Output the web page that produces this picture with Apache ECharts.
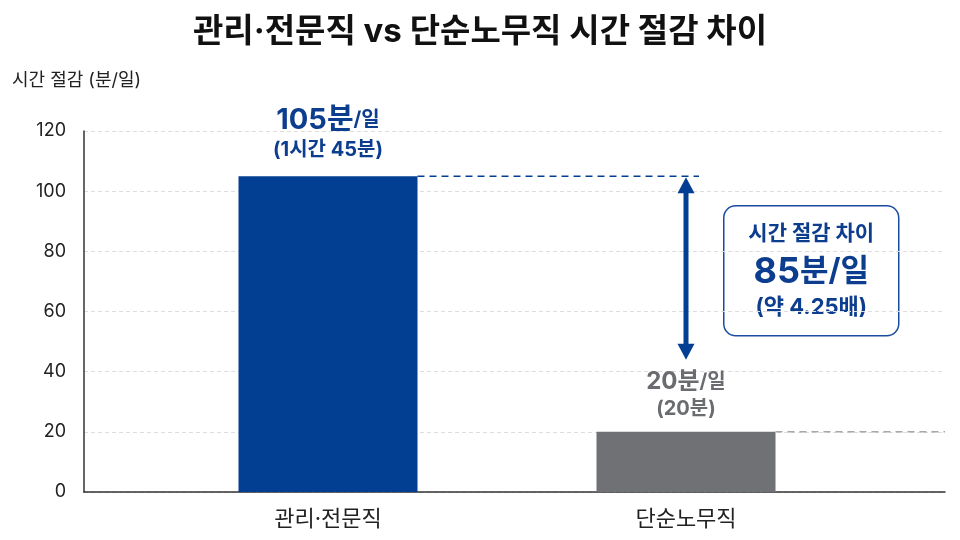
<!DOCTYPE html>
<html><head><meta charset="utf-8">
<script src="https://cdn.jsdelivr.net/npm/echarts@6/dist/echarts.min.js"></script>
<style>html,body{margin:0;padding:0;background:#fff}#c{width:960px;height:540px}</style>
</head><body><div id="c"></div>
<script>
const categories = ['관리·전문직', '단순노무직'];
const minutesPerDay = [105, 20];
const durationText = ['1시간 45분', '20분'];
const yTicks = [0, 20, 40, 60, 80, 100, 120];
const diffLines = ['시간 절감 차이', '85', '분/일', '(약 4.25배)'];
const arrowBottomValue = 44;

const FONT = 'Inter, "Noto Sans CJK KR", "Noto Sans", sans-serif';
const BLUE = '#023f92';
const BLUE_T = '#0c3d8f';
const GRAY = '#6f7175';
const GRAY_T = '#6a6c70';
const barWidth = 179;

const chart = echarts.init(document.getElementById('c'));

const barData = minutesPerDay.map((v, i) => ({
  value: v,
  itemStyle: { color: i === 0 ? BLUE : GRAY },
  label: i === 0 ? {
    distance: 13,
    rich: {
      a: { fontFamily: FONT, fontSize: 29, fontWeight: 'bold', color: BLUE_T, lineHeight: 34 },
      b: { fontFamily: FONT, fontSize: 20, fontWeight: 'bold', color: BLUE_T, lineHeight: 34 },
      c: { fontFamily: FONT, fontSize: 20, fontWeight: 'bold', color: BLUE_T, lineHeight: 26 }
    }
  } : {
    distance: 10,
    rich: {
      a: { fontFamily: FONT, fontSize: 24, fontWeight: 'bold', color: GRAY_T, lineHeight: 28 },
      b: { fontFamily: FONT, fontSize: 20, fontWeight: 'bold', color: GRAY_T, lineHeight: 28 },
      c: { fontFamily: FONT, fontSize: 20, fontWeight: 'bold', color: GRAY_T, lineHeight: 26 }
    }
  }
}));

const option = {
  backgroundColor: '#ffffff',
  animation: false,
  title: {
    text: '관리·전문직 vs 단순노무직 시간 절감 차이',
    left: 'center', top: 11,
    textStyle: { fontFamily: FONT, fontSize: 33, fontWeight: 'bold', color: '#111111' }
  },
  grid: [
    { left: 84, right: 15, top: 131, bottom: 48 },
    { left: 149, right: 95, top: 131, bottom: 48 }
  ],
  xAxis: [
    { gridIndex: 0, type: 'category', data: [''], axisLine: { show: true, lineStyle: { color: '#333', width: 1.5 } },
      axisTick: { show: false }, axisLabel: { show: false } },
    { gridIndex: 1, type: 'category', data: categories, axisLine: { show: false }, axisTick: { show: false },
      axisLabel: { fontFamily: FONT, fontSize: 22, color: '#222', margin: 16 } }
  ],
  yAxis: [
    { gridIndex: 0, type: 'value', min: yTicks[0], max: yTicks[yTicks.length - 1], interval: 20,
      axisLine: { show: true, lineStyle: { color: '#333', width: 1.5 } }, axisTick: { show: false },
      axisLabel: { fontFamily: FONT, fontSize: 18, color: '#222', margin: 18 },
      splitLine: { show: true, lineStyle: { color: '#dddddd', type: [4, 3], width: 1 } } },
    { gridIndex: 1, type: 'value', min: yTicks[0], max: yTicks[yTicks.length - 1], interval: 20, show: false,
      splitLine: { show: false } }
  ],
  graphic: [
    { type: 'text', left: 12, top: 72, style: { text: '시간 절감 (분/일)', font: '18px ' + FONT, fill: '#222' } },
    { type: 'group', left: 723, top: 205, z: 100, children: [
      { type: 'rect', shape: { x: 0, y: 0, width: 175, height: 130, r: 12 },
        style: { fill: '#fff', stroke: '#1a4ca0', lineWidth: 1.5 } },
      { type: 'text', x: 87.5, y: 28, style: { text: diffLines[0], font: 'bold 21px ' + FONT, fill: BLUE_T, align: 'center', verticalAlign: 'middle' } },
      { type: 'text', x: 87.5, y: 66, style: {
          text: '{a|' + diffLines[1] + '}{b|' + diffLines[2] + '}', align: 'center', verticalAlign: 'middle',
          rich: { a: { font: 'bold 36px ' + FONT, fill: BLUE_T }, b: { font: 'bold 31px ' + FONT, fill: BLUE_T } } } },
      { type: 'text', x: 87.5, y: 102, style: { text: diffLines[3], font: 'bold 22px ' + FONT, fill: BLUE_T, align: 'center', verticalAlign: 'middle' } }
    ] }
  ],
  series: [
    {
      type: 'bar', xAxisIndex: 1, yAxisIndex: 1, barWidth: barWidth, data: barData,
      label: {
        show: true, position: 'top',
        formatter: p => '{a|' + minutesPerDay[p.dataIndex] + '분}{b|/일}\n{c|(' + durationText[p.dataIndex] + ')}'
      }
    },
    {
      type: 'custom', xAxisIndex: 1, yAxisIndex: 1, data: [[0, 0]], z: 5, silent: true,
      renderItem: function (params, api) {
        const p0 = api.coord([0, minutesPerDay[0]]);
        const p1 = api.coord([1, minutesPerDay[1]]);
        const pb = api.coord([1, arrowBottomValue]);
        const half = barWidth / 2;
        const rightEnd = api.getWidth() - 15;
        const ax = p1[0];
        return { type: 'group', children: [
          { type: 'line', shape: { x1: p0[0] + half, y1: p0[1], x2: ax + 13, y2: p0[1] },
            style: { stroke: BLUE, lineWidth: 1.5, lineDash: [7, 5] } },
          { type: 'line', shape: { x1: p1[0] + half, y1: p1[1], x2: rightEnd, y2: p1[1] },
            style: { stroke: '#a8a8a8', lineWidth: 1.5, lineDash: [7, 5] } },
          { type: 'line', shape: { x1: ax, y1: p0[1] + 12, x2: ax, y2: pb[1] - 12 },
            style: { stroke: BLUE, lineWidth: 5 } },
          { type: 'polygon', shape: { points: [[ax, p0[1] + 1], [ax - 8.5, p0[1] + 17], [ax + 8.5, p0[1] + 17]] }, style: { fill: BLUE } },
          { type: 'polygon', shape: { points: [[ax, pb[1]], [ax - 8.5, pb[1] - 16], [ax + 8.5, pb[1] - 16]] }, style: { fill: BLUE } }
        ] };
      }
    }
  ]
};
chart.setOption(option);
</script>
</body></html>
